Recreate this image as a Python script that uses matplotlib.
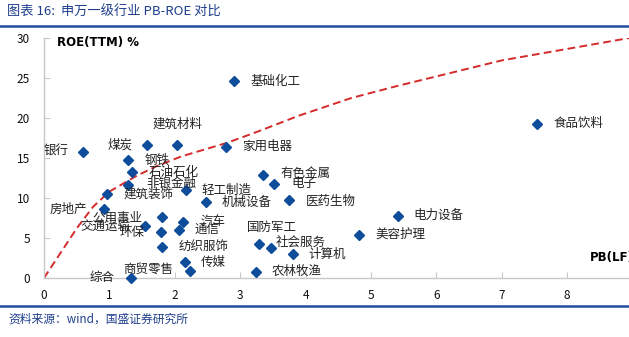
import matplotlib.pyplot as plt

plt.rcParams['font.family'] = ['Noto Sans CJK SC', 'DejaVu Sans']
plt.rcParams['axes.unicode_minus'] = False

# 申万一级行业 PB(LF) / ROE(TTM)
industries = ['银行', '煤炭', '建筑材料', '家用电器', '基础化工', '钢铁', '石油石化',
              '非银金融', '建筑装饰', '轻工制造', '机械设备', '房地产', '公用事业',
              '交通运输', '环保', '汽车', '通信', '纺织服饰', '传媒', '商贸零售', '综合',
              '有色金属', '电子', '医药生物', '社会服务', '国防军工', '计算机', '农林牧渔',
              '电力设备', '美容护理', '食品饮料']
pb = [0.60, 1.58, 2.04, 2.78, 2.91, 1.28, 1.35,
      1.29, 0.97, 2.17, 2.47, 0.92, 1.80,
      1.55, 1.79, 2.13, 2.06, 1.81, 2.15, 2.23, 1.33,
      3.35, 3.52, 3.75, 3.29, 3.47, 3.80, 3.24,
      5.41, 4.82, 7.54]
roe = [15.8, 16.6, 16.6, 16.4, 24.6, 14.8, 13.2,
       11.6, 10.5, 11.0, 9.5, 8.6, 7.6,
       6.5, 5.7, 7.0, 6.0, 3.9, 2.0, 0.9, 0.0,
       12.9, 11.75, 9.7, 4.3, 3.8, 3.0, 0.8,
       7.8, 5.4, 19.25]

# 参考曲线（读图得到的点）
curve_x = [0, 0.25, 0.5, 0.75, 1.0, 1.4, 1.7, 2.1, 2.8, 3.3, 3.9, 4.7, 5.4, 7.0, 8.95]
curve_y = [0, 3.1, 6.2, 8.9, 10.8, 12.7, 13.9, 15.2, 16.9, 18.4, 20.3, 22.5, 24.0, 27.2, 30.0]

# 标签位置：(对齐, dx, dy)，单位像素
label_pos = {'银行': ('right', -15, 0), '煤炭': ('right', -15, 0),
             '建筑材料': ('center', 0, 21), '房地产': ('right', -17, 0),
             '公用事业': ('right', -19, -1), '交通运输': ('right', -15, -1),
             '环保': ('right', -17, 0), '商贸零售': ('right', -17, 1),
             '综合': ('right', -16, 0), '国防军工': ('center', 1, 20),
             '非银金融': ('left', 18, 2), '钢铁': ('left', 17, -1),
             '汽车': ('left', 17, 1), '有色金属': ('left', 17, 1), '电子': ('left', 17, 1),
             '医药生物': ('left', 17, -1), '社会服务': ('left', 16, 1)}

fig = plt.figure(figsize=(6.29, 3.37), dpi=100)
ax = fig.add_axes([44 / 629, 59 / 337, 585 / 629, 240 / 337])

blue = '#0E4C9C'
ax.plot(curve_x, curve_y, color='#D42A2A', lw=1.4, dashes=(4, 2.2), zorder=2)
ax.plot(pb, roe, 'D', color=blue, ms=5.3, mec=blue, clip_on=False, zorder=3)

for name, x, y in zip(industries, pb, roe):
    ha, dx, dy = label_pos.get(name, ('left', 16, 0))
    ax.annotate(name, (x, y), xytext=(dx, dy), textcoords='offset pixels',
                ha=ha, va='center', fontsize=9, color='#222222', zorder=4)

ax.set_xlim(0, 8.945)
ax.set_ylim(0, 30)
ax.set_xticks(range(0, 9))
ax.set_yticks(range(0, 31, 5))
for s in ['top', 'right']:
    ax.spines[s].set_visible(False)
for s in ['left', 'bottom']:
    ax.spines[s].set_color('#C8C8C8')
    ax.spines[s].set_linewidth(1)
ax.tick_params(direction='in', length=4, color='#C8C8C8', labelsize=8.5,
               labelcolor='#111111')
ax.tick_params(axis='x', pad=8)
ax.tick_params(axis='y', pad=10)

ax.text(0.2, 29.4, 'ROE(TTM) %', fontsize=8.5, fontweight='bold', family='DejaVu Sans',
        ha='left', va='center')
ax.text(8.35, 2.6, 'PB(LF)', fontsize=8.5, fontweight='bold', family='DejaVu Sans',
        ha='left', va='center', clip_on=False)

# 标题与来源
title_c = '#1F3F8C'
fig.text(7 / 629, 1 - 12 / 337, '图表 16:  申万一级行业 PB-ROE 对比', fontsize=9.5,
         color=title_c, style='italic', ha='left', va='center')
fig.add_artist(plt.Line2D([0, 1], [1 - 26 / 337] * 2, color='#1F4E9A', lw=1.8))
fig.add_artist(plt.Line2D([0, 1], [1 - 305.5 / 337] * 2, color='#1F4E9A', lw=1.8))
fig.text(8 / 629, 1 - 319 / 337, '资料来源：wind，国盛证券研究所', fontsize=8.5,
         color=title_c, style='italic', ha='left', va='center')

fig.savefig('out.png', dpi=100)
